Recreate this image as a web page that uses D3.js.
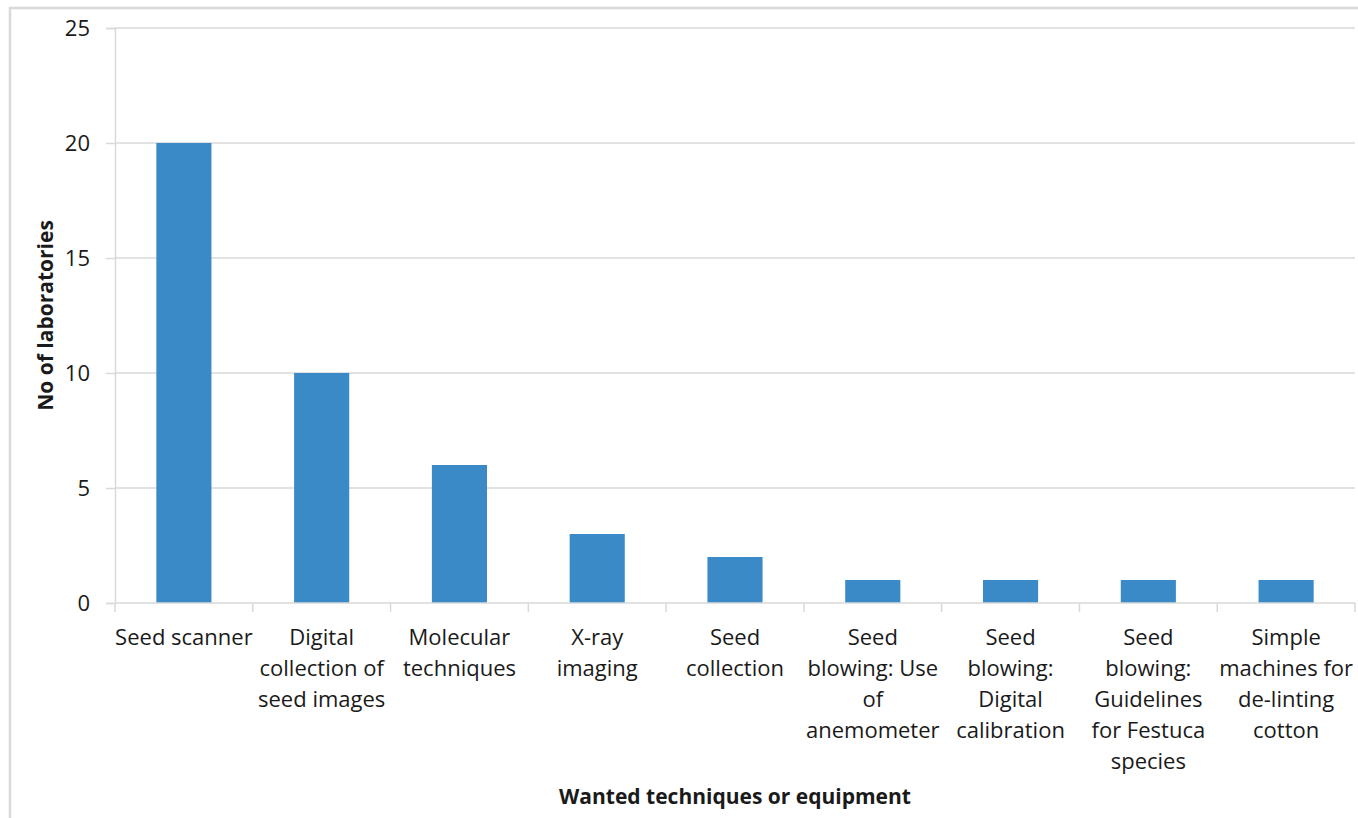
<!DOCTYPE html>
<html><head><meta charset="utf-8">
<script src="https://cdn.jsdelivr.net/npm/d3@7"></script>
<style>
html,body{margin:0;padding:0;background:#fff;}
svg{display:block;}
text{font-family:"Open Sans",Lato,sans-serif;fill:#1a1a1a;}
</style></head><body>
<svg id="c" width="1358" height="818"></svg>
<script>
const categories = [
  ["Seed scanner"],
  ["Digital", "collection of", "seed images"],
  ["Molecular", "techniques"],
  ["X-ray", "imaging"],
  ["Seed", "collection"],
  ["Seed", "blowing: Use", "of", "anemometer"],
  ["Seed", "blowing:", "Digital", "calibration"],
  ["Seed", "blowing:", "Guidelines", "for Festuca", "species"],
  ["Simple", "machines for", "de-linting", "cotton"]
];
const values = [20, 10, 6, 3, 2, 1, 1, 1, 1];
const yTicks = [0, 5, 10, 15, 20, 25];
const yTitle = "No of laboratories";
const xTitle = "Wanted techniques or equipment";

const svg = d3.select("#c");
const W = 1358, H = 818;
const m = {left:115, right:3, top:28, bottom:215};
const iw = W - m.left - m.right, ih = H - m.top - m.bottom;
const FONT = "'Open Sans', Lato, sans-serif";

// outer border
svg.append("rect").attr("x",10).attr("y",8).attr("width",W).attr("height",H)
  .attr("fill","none").attr("stroke","#d9d9d9").attr("stroke-width",2.5);

const keys = categories.map((d,i)=>String(i));
const x = d3.scaleBand().domain(keys).range([m.left, m.left+iw]).padding(0);
const y = d3.scaleLinear().domain([0,25]).range([m.top+ih, m.top]);

// gridlines
svg.append("g").selectAll("line").data(yTicks.filter(t=>t>0)).join("line")
  .attr("x1",m.left).attr("x2",m.left+iw)
  .attr("y1",d=>y(d)).attr("y2",d=>y(d))
  .attr("stroke","#d9d9d9").attr("stroke-width",1.5);

// y axis
const ya = svg.append("g").attr("transform",`translate(${m.left},0)`)
  .call(d3.axisLeft(y).tickValues(yTicks).tickSize(9).tickPadding(16));
ya.select(".domain").attr("stroke","#d9d9d9").attr("stroke-width",1.5);
ya.selectAll(".tick line").attr("stroke","#d9d9d9").attr("stroke-width",1.5);
ya.selectAll(".tick text").style("font-size","22px").attr("fill","#1a1a1a")
  .style("font-family",FONT);

// bars
const bw = x.bandwidth()*0.4;
svg.append("g").selectAll("rect").data(values).join("rect")
  .attr("x",(d,i)=>x(String(i))+x.bandwidth()/2-bw/2)
  .attr("width",bw)
  .attr("y",d=>y(d)).attr("height",d=>y(0)-y(d))
  .attr("fill","#3a8ac8");

// x axis
const xa = svg.append("g").attr("transform",`translate(0,${y(0)})`);
xa.append("line").attr("x1",m.left).attr("x2",m.left+iw).attr("stroke","#d9d9d9").attr("stroke-width",1.5);
const bounds = keys.map(k=>x(k)).concat([m.left+iw]);
xa.selectAll("line.tk").data(bounds).join("line").attr("class","tk")
  .attr("x1",d=>d).attr("x2",d=>d).attr("y1",0).attr("y2",9)
  .attr("stroke","#d9d9d9").attr("stroke-width",1.5);

const lab = svg.append("g").selectAll("text").data(categories).join("text")
  .attr("text-anchor","middle").style("font-size","22px")
  .attr("transform",(d,i)=>`translate(${x(String(i))+x.bandwidth()/2},${y(0)+42})`);
lab.selectAll("tspan").data(d=>d).join("tspan")
  .attr("x",0).attr("y",(d,j)=>j*31).text(d=>d);

// titles
svg.append("text").attr("x",m.left+iw/2).attr("y",804).attr("text-anchor","middle")
  .style("font-size","21px").style("font-weight","bold").text(xTitle);
svg.append("text").attr("transform",`translate(53,${m.top+ih/2}) rotate(-90)`)
  .attr("text-anchor","middle").style("font-size","21px").style("font-weight","bold").text(yTitle);
</script></body></html>
